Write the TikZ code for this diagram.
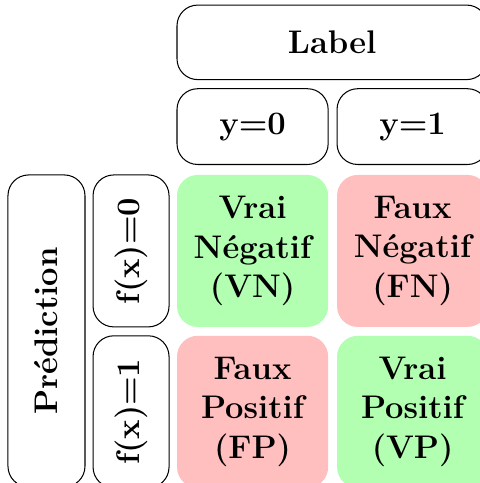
\documentclass[tikz,border=0pt]{standalone}
\usepackage{graphicx}
\usetikzlibrary{
  positioning,
}
\tikzstyle{cell} = [
  rounded corners=10pt,
  inner sep=0pt,
  align=center,
  font=\fontsize{15.8}{19}\selectfont\bfseries,
  minimum width=73pt,
  minimum height=73.4pt,
]
\tikzstyle{head} = [
  cell,
  draw,
  line width=0.5pt,
]
\colorlet{vrai}{green!30}
\colorlet{faux}{red!25}

\begin{document}
\begin{tikzpicture}[node distance=3.9pt and 3.9pt]

        \useasboundingbox (0,0) rectangle (231.4pt,-233.3pt);

        % matrice
        \node [cell, fill=vrai] (vn) at (122pt,-121.2pt) {Vrai\\N\'egatif\\(VN)};

        \node [cell, fill=faux, right=of vn] (fn) {Faux\\N\'egatif\\(FN)};

        \node [cell, fill=faux, below=of vn] (fp) {Faux\\Positif\\(FP)};

        \node [cell, fill=vrai, right=of fp] (vp) {Vrai\\Positif\\(VP)};

        % en-tetes du haut
        \node [head, minimum height=36.6pt, above=4.6pt of vn] (yzero) {y=0};

        \node [head, minimum height=36.6pt, above=4.6pt of fn] (yone) {y=1};

        \node [head, minimum width=149.9pt, minimum height=36pt,
               above=3.9pt of yzero.north west, anchor=south west] (lbl) {Label};

        % en-tetes de gauche
        \node [head, minimum width=36.7pt, left=3.4pt of vn] (fzero)
              {\rotatebox{90}{f(x)=0}};

        \node [head, minimum width=36.7pt, left=3.4pt of fp] (fone)
              {\rotatebox{90}{f(x)=1}};

        \node [head, minimum width=37.2pt, minimum height=150.7pt,
               left=3.4pt of fzero.north west, anchor=north east] (pred)
              {\rotatebox{90}{Pr\'ediction}};
      \end{tikzpicture}
\end{document}
